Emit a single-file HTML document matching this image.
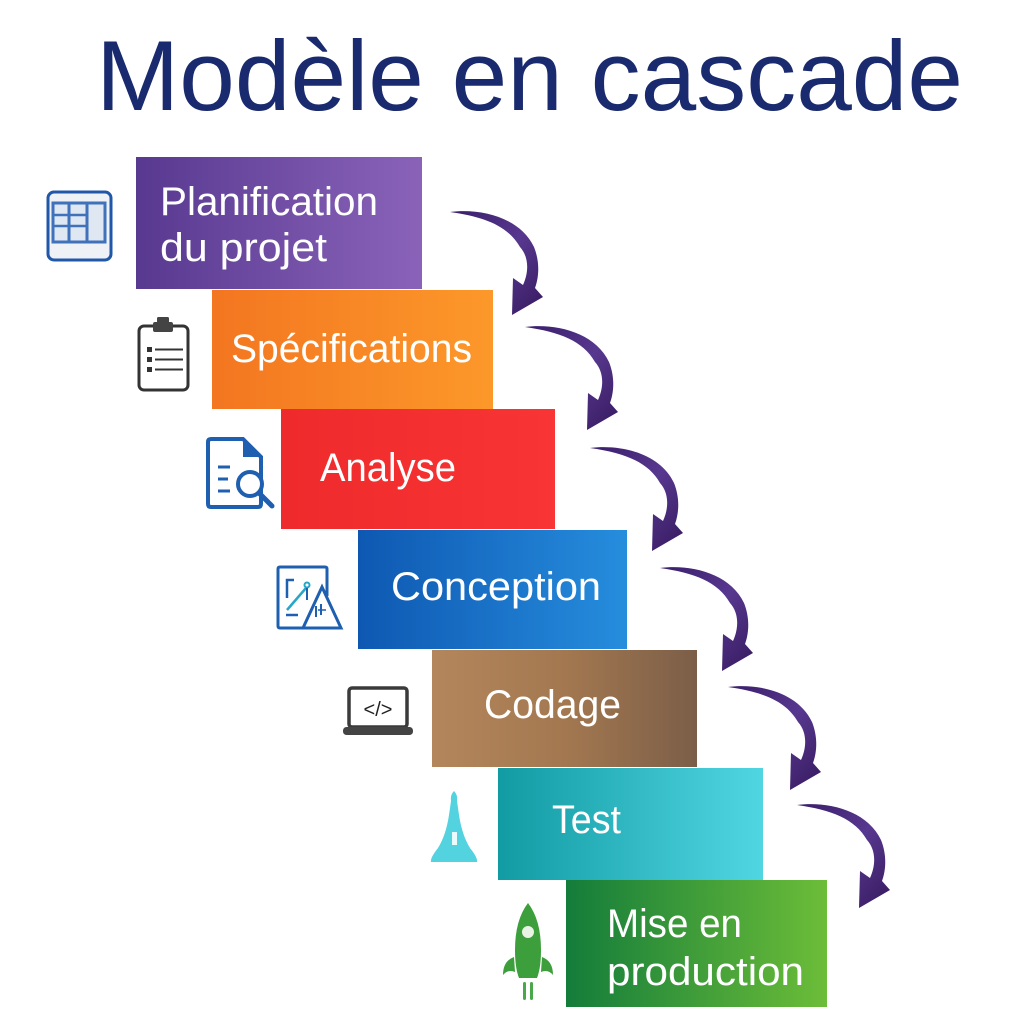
<!DOCTYPE html>
<html>
<head>
<meta charset="utf-8">
<style>
  html, body { margin: 0; padding: 0; background: #ffffff; }
  svg { display: block; }
  .lbl { font-family: "Liberation Sans", "DejaVu Sans", sans-serif; font-size: 40px; fill: #ffffff; }
</style>
</head>
<body>
<svg width="1024" height="1024" viewBox="0 0 1024 1024" xmlns="http://www.w3.org/2000/svg">
  <defs>
    <linearGradient id="gPurple" x1="0" y1="0" x2="1" y2="0">
      <stop offset="0" stop-color="#583990"/>
      <stop offset="1" stop-color="#8a63b9"/>
    </linearGradient>
    <linearGradient id="gOrange" x1="0" y1="0" x2="1" y2="0">
      <stop offset="0" stop-color="#f37620"/>
      <stop offset="1" stop-color="#fc982a"/>
    </linearGradient>
    <linearGradient id="gRed" x1="0" y1="0" x2="1" y2="0">
      <stop offset="0" stop-color="#ef2a2c"/>
      <stop offset="1" stop-color="#f83434"/>
    </linearGradient>
    <linearGradient id="gBlue" x1="0" y1="0" x2="1" y2="0">
      <stop offset="0" stop-color="#0e58b2"/>
      <stop offset="1" stop-color="#268ddd"/>
    </linearGradient>
    <linearGradient id="gBrown" x1="0" y1="0" x2="1" y2="0">
      <stop offset="0" stop-color="#b4865c"/>
      <stop offset="0.5" stop-color="#a37850"/>
      <stop offset="1" stop-color="#7b5e48"/>
    </linearGradient>
    <linearGradient id="gTeal" x1="0" y1="0" x2="1" y2="0">
      <stop offset="0" stop-color="#129ba3"/>
      <stop offset="1" stop-color="#50d6e3"/>
    </linearGradient>
    <linearGradient id="gGreen" x1="0" y1="0" x2="1" y2="0">
      <stop offset="0" stop-color="#137c3a"/>
      <stop offset="1" stop-color="#6cbd38"/>
    </linearGradient>
    <linearGradient id="gArrow" x1="0" y1="0" x2="1" y2="1">
      <stop offset="0" stop-color="#3a1d6a"/>
      <stop offset="0.5" stop-color="#57388f"/>
      <stop offset="1" stop-color="#36195f"/>
    </linearGradient>
    <path id="arrow" d="M0,0 C30,-4 70,5 84,35 C90,50 89,65 85,76 L93,85 L62,103 L63,66 L73,73 C79,60 79,45 70,35 C58,14 35,5 0,0 Z"/>
  </defs>

  <!-- Title -->
  <text x="96" y="110" font-family="'Liberation Sans', 'DejaVu Sans', sans-serif" font-size="99" fill="#1a2a6e" textLength="867" lengthAdjust="spacingAndGlyphs">Modèle en cascade</text>

  <!-- Boxes -->
  <rect x="136" y="157" width="286" height="132" fill="url(#gPurple)"/>
  <rect x="212" y="290" width="281" height="119" fill="url(#gOrange)"/>
  <rect x="281" y="409" width="274" height="120" fill="url(#gRed)"/>
  <rect x="358" y="530" width="269" height="119" fill="url(#gBlue)"/>
  <rect x="432" y="650" width="265" height="117" fill="url(#gBrown)"/>
  <rect x="498" y="768" width="265" height="112" fill="url(#gTeal)"/>
  <rect x="566" y="880" width="261" height="127" fill="url(#gGreen)"/>

  <!-- Labels -->
  <text class="lbl" x="160" y="215" textLength="218" lengthAdjust="spacingAndGlyphs">Planification</text>
  <text class="lbl" x="160" y="261" textLength="167" lengthAdjust="spacingAndGlyphs">du projet</text>
  <text class="lbl" x="231" y="362" textLength="241" lengthAdjust="spacingAndGlyphs">Spécifications</text>
  <text class="lbl" x="320" y="481" textLength="136" lengthAdjust="spacingAndGlyphs">Analyse</text>
  <text class="lbl" x="391" y="600" textLength="210" lengthAdjust="spacingAndGlyphs">Conception</text>
  <text class="lbl" x="484" y="718" textLength="137" lengthAdjust="spacingAndGlyphs">Codage</text>
  <text class="lbl" x="552" y="833" textLength="69" lengthAdjust="spacingAndGlyphs">Test</text>
  <text class="lbl" x="607" y="937" textLength="135" lengthAdjust="spacingAndGlyphs">Mise en</text>
  <text class="lbl" x="607" y="985" textLength="197" lengthAdjust="spacingAndGlyphs">production</text>

  <!-- Arrows -->
  <use href="#arrow" transform="translate(450,212)" fill="url(#gArrow)"/>
  <use href="#arrow" transform="translate(525,327)" fill="url(#gArrow)"/>
  <use href="#arrow" transform="translate(590,448)" fill="url(#gArrow)"/>
  <use href="#arrow" transform="translate(660,568)" fill="url(#gArrow)"/>
  <use href="#arrow" transform="translate(728,687)" fill="url(#gArrow)"/>
  <use href="#arrow" transform="translate(797,805)" fill="url(#gArrow)"/>

  <!-- Icon 1: table/spreadsheet -->
  <rect x="48" y="192" width="63" height="68" rx="6" fill="#eef1f6" stroke="#2057a8" stroke-width="3"/>
  <rect x="53" y="203" width="52" height="39" fill="#dfe7f3" stroke="#3f72ba" stroke-width="3"/>
  <line x1="69" y1="203" x2="69" y2="242" stroke="#3f72ba" stroke-width="3"/>
  <line x1="87" y1="203" x2="87" y2="242" stroke="#3f72ba" stroke-width="3"/>
  <line x1="53" y1="215" x2="87" y2="215" stroke="#3f72ba" stroke-width="2.5"/>
  <line x1="53" y1="226" x2="87" y2="226" stroke="#3f72ba" stroke-width="2.5"/>

  <!-- Icon 2: clipboard -->
  <rect x="139" y="326" width="49" height="64" rx="5" fill="#ffffff" stroke="#333333" stroke-width="3"/>
  <rect x="153" y="322" width="20" height="10" rx="2" fill="#444444"/>
  <rect x="157" y="317" width="12" height="6" rx="1.5" fill="#444444"/>
  <rect x="147" y="347" width="5" height="5" fill="#333333"/>
  <rect x="147" y="357" width="5" height="5" fill="#333333"/>
  <rect x="147" y="367" width="5" height="5" fill="#333333"/>
  <line x1="155" y1="349.5" x2="183" y2="349.5" stroke="#333333" stroke-width="2"/>
  <line x1="155" y1="359.5" x2="183" y2="359.5" stroke="#333333" stroke-width="2"/>
  <line x1="155" y1="369.5" x2="183" y2="369.5" stroke="#333333" stroke-width="2"/>

  <!-- Icon 3: document + magnifier -->
  <path d="M211,439 H243 L261,457 V504 Q261,507 258,507 H211 Q208,507 208,504 V442 Q208,439 211,439 Z" fill="#ffffff" stroke="#1e5fb0" stroke-width="4"/>
  <path d="M243,439 L261,457 H243 Z" fill="#1e5fb0"/>
  <line x1="218" y1="467" x2="230" y2="467" stroke="#1e5fb0" stroke-width="3"/>
  <line x1="218" y1="479" x2="228" y2="479" stroke="#1e5fb0" stroke-width="3"/>
  <line x1="218" y1="491" x2="230" y2="491" stroke="#1e5fb0" stroke-width="3"/>
  <circle cx="250" cy="484" r="12" fill="#ffffff" stroke="#1e5fb0" stroke-width="4"/>
  <line x1="259" y1="493" x2="272" y2="506" stroke="#1e5fb0" stroke-width="5" stroke-linecap="round"/>

  <!-- Icon 4: conception (design) -->
  <path d="M313,628 H280 Q278,628 278,626 V569 Q278,567 280,567 H325 Q327,567 327,569 V596" fill="none" stroke="#1e5fb0" stroke-width="3"/>
  <path d="M303,628 L322,587 L341,628 Z" fill="#ffffff" stroke="#1e5fb0" stroke-width="3"/>
  <path d="M294,580 H287 V598" fill="none" stroke="#1e5fb0" stroke-width="2.5"/>
  <line x1="287" y1="610" x2="306" y2="588" stroke="#27a6c8" stroke-width="2.5"/>
  <circle cx="307" cy="585" r="2.5" fill="none" stroke="#27a6c8" stroke-width="2"/>
  <line x1="307" y1="588" x2="307" y2="600" stroke="#1e5fb0" stroke-width="2"/>
  <line x1="286" y1="615" x2="298" y2="615" stroke="#1e5fb0" stroke-width="2.5"/>
  <line x1="316" y1="606" x2="316" y2="617" stroke="#1e5fb0" stroke-width="2"/>
  <line x1="321" y1="604" x2="321" y2="615" stroke="#1e5fb0" stroke-width="2"/>
  <line x1="318" y1="610" x2="326" y2="610" stroke="#1e5fb0" stroke-width="1.5"/>

  <!-- Icon 5: laptop -->
  <rect x="349" y="688" width="58" height="39" rx="3" fill="#ffffff" stroke="#3a3a3a" stroke-width="3.5"/>
  <rect x="343" y="727" width="70" height="8" rx="3.5" fill="#444444"/>
  <text x="378" y="716" text-anchor="middle" font-family="'Liberation Sans', 'DejaVu Sans', sans-serif" font-size="20" fill="#222222">&lt;/&gt;</text>

  <!-- Icon 6: flask / test -->
  <path d="M451,801 Q450,795 454,791 Q458,795 457,801 L459,815 Q462,835 470,848 Q478,858 477,862 L431,862 Q430,858 438,848 Q446,835 449,815 Z" fill="#52d3df"/>
  <rect x="452" y="832" width="5" height="13" fill="#e9fbfc"/>

  <!-- Icon 7: rocket -->
  <path d="M528,903 Q541,920 541,950 Q541,968 537,978 L519,978 Q515,968 515,950 Q515,920 528,903 Z" fill="#3d9e3c"/>
  <circle cx="528" cy="932" r="6" fill="#e8f3e6"/>
  <path d="M514,957 Q503,961 503,975 Q508,969 515,972 Z" fill="#3d9e3c"/>
  <path d="M542,957 Q553,961 553,975 Q548,969 541,972 Z" fill="#3d9e3c"/>
  <rect x="523" y="982" width="3" height="18" rx="1.5" fill="#4aa84a"/>
  <rect x="530" y="982" width="3" height="18" rx="1.5" fill="#4aa84a"/>
</svg>
</body>
</html>
